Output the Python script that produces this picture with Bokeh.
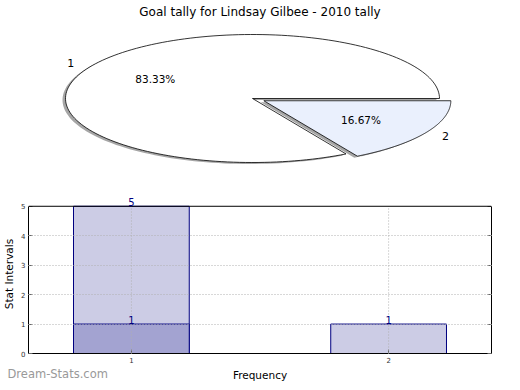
import numpy as np
from bokeh.plotting import figure
from bokeh.models import Range1d, Label, FixedTicker, LinearAxis, Span
from bokeh.layouts import column
from bokeh.embed import file_html
from bokeh.resources import INLINE
from bokeh.core.properties import value

# ---------------- data ----------------
title = "Goal tally for Lindsay Gilbee - 2010 tally"
pie_labels = ["1", "2"]
pie_values = [5, 1]
pie_colors = ["#FFFFFF", "#EAF0FD"]
pie_explode = [0.0, 0.07]

bar_categories = [1, 2]
bar_totals = [5, 1]
bar_overlay_categories = [1]
bar_overlay_values = [1]
y_ticks = [0, 1, 2, 3, 4, 5]
x_label = "Frequency"
y_label = "Stat Intervals"
watermark = "Dream-Stats.com"

FONT = "DejaVu Sans"

# layout (page pixels)
FRAME_LEFT = 29.0
FRAME_W = 463
TOP_FRAME_TOP = 20.0
TOP_H = 144

# ---------------- pie ----------------
p1 = figure(frame_width=FRAME_W, frame_height=TOP_H,
            x_range=Range1d(FRAME_LEFT, FRAME_LEFT + FRAME_W),
            y_range=Range1d(TOP_FRAME_TOP + TOP_H, TOP_FRAME_TOP),
            output_backend="svg", toolbar_location=None, min_border=0,
            title=title)
p1.axis.visible = False
p1.grid.visible = False
p1.outline_line_color = None
p1.title.align = "center"
p1.title.text_font = FONT
p1.title.text_font_size = "12px"
p1.title.text_font_style = "normal"
p1.title.text_color = "#000000"
p1.title.standoff = 4

cx, cy, rx, ry = 253.0, 98.0, 187.0, 64.0
total = float(sum(pie_values))
start = 0.0
wedge_xs, wedge_ys, centers = [], [], []
for v, e in zip(pie_values, pie_explode):
    f = v / total
    a0, a1 = start, start + f * 360.0
    mid = np.radians((a0 + a1) / 2.0)
    ox = cx + e * rx * np.cos(mid)
    oy = cy - e * ry * np.sin(mid)
    th = np.radians(np.linspace(a0, a1, 160))
    wedge_xs.append([ox] + list(ox + rx * np.cos(th)) + [ox])
    wedge_ys.append([oy] + list(oy - ry * np.sin(th)) + [oy])
    centers.append((ox, oy, mid))
    start = a1

sdx, sdy = -3.0, 1.5
p1.patches([[x + sdx for x in xs] for xs in wedge_xs],
           [[y + sdy for y in ys] for ys in wedge_ys],
           fill_color="#4D4D4D", fill_alpha=0.5, line_color=None)
p1.patches(wedge_xs, wedge_ys, fill_color=pie_colors, line_color="black",
           line_width=0.8)

for (ox, oy, mid), lab, v in zip(centers, pie_labels, pie_values):
    lx = ox + 1.1 * rx * np.cos(mid)
    ly = oy - 1.1 * ry * np.sin(mid)
    px = ox + 0.6 * rx * np.cos(mid)
    py = oy - 0.6 * ry * np.sin(mid)
    p1.text([lx], [ly], text=[lab], text_font=value(FONT), text_font_size="11px",
            text_align="right" if np.cos(mid) < 0 else "left",
            text_baseline="middle", text_color="black")
    p1.text([px], [py], text=["%.2f%%" % (100.0 * v / total)],
            text_font=value(FONT), text_font_size="10.5px",
            text_align="center", text_baseline="middle", text_color="black")

# ---------------- bars ----------------
PX_PER_Y = 29.4
Y_MAX = max(y_ticks)
Y_TOP = Y_MAX + 0.4          # headroom so the value label above the top bar is not clipped
BAR_H = int(round(Y_TOP * PX_PER_Y))
X0, X1 = 0.6, 2.4
p2 = figure(frame_width=FRAME_W, frame_height=BAR_H, x_range=Range1d(X0, X1),
            y_range=Range1d(0, Y_TOP), output_backend="svg",
            toolbar_location=None, min_border_left=0, min_border_right=4,
            min_border_top=30, min_border_bottom=0)
p2.outline_line_color = None

# top edge of the plot box
p2.add_layout(Span(location=Y_MAX, dimension="width", line_color="black",
                   line_width=1))

# vertical grid lines (bounded to 0..Y_MAX)
p2.segment(x0=bar_categories, y0=[0] * len(bar_categories), x1=bar_categories,
           y1=[Y_MAX] * len(bar_categories), line_color="#B0B0B0",
           line_dash="1 2", line_width=1, level="annotation")

p2.vbar(x=bar_categories, top=bar_totals, width=0.45, bottom=0,
        fill_color="#CCCCE5", line_color="#000080", line_width=1)
p2.vbar(x=bar_overlay_categories, top=bar_overlay_values, width=0.45, bottom=0,
        fill_color="#A3A3D1", line_color="#000080", line_width=1)

lab_x = bar_categories + bar_overlay_categories
lab_y = bar_totals + bar_overlay_values
p2.text(lab_x, lab_y, text=[str(v) for v in lab_y], text_font=value(FONT),
        text_font_size="10px", text_align="center", text_baseline="bottom",
        text_color="#000080", y_offset=0, level="overlay")

right_axis = LinearAxis()
p2.add_layout(right_axis, "right")

for ax in p2.xaxis:
    ax.ticker = FixedTicker(ticks=bar_categories)
for ax in p2.yaxis:
    ax.ticker = FixedTicker(ticks=y_ticks)
    ax.bounds = (0, Y_MAX)

for ax in list(p2.xaxis) + list(p2.yaxis):
    ax.axis_line_color = "black"
    ax.axis_line_width = 1
    ax.major_tick_in = 4
    ax.major_tick_out = 0
    ax.major_tick_line_color = "#666666"
    ax.minor_tick_line_color = None
    ax.major_label_text_font = FONT
    ax.major_label_text_font_size = "7px"
    ax.major_label_text_color = "#333333"
    ax.major_label_standoff = 3
    ax.axis_label_text_font = FONT
    ax.axis_label_text_font_size = "10.5px"
    ax.axis_label_text_font_style = "normal"
    ax.axis_label_text_color = "#000000"
    ax.axis_label_standoff = 3
right_axis.major_label_text_color = None
right_axis.major_label_standoff = 0

p2.xaxis.axis_label = x_label
p2.yaxis[0].axis_label = y_label

p2.xgrid.visible = False
for g in p2.ygrid:
    g.grid_line_color = "#B0B0B0"
    g.grid_line_dash = "1 2"
    g.grid_line_width = 1
    g.level = "annotation"
    g.ticker = FixedTicker(ticks=y_ticks[1:-1])

# watermark at the bottom-left corner of the page (data units of the bar plot)
px_per_x = FRAME_W / (X1 - X0)
wm = Label(x=X0 - (FRAME_LEFT - 8) / px_per_x, y=-20 / PX_PER_Y,
           text=watermark, text_font=FONT, text_font_size="11.5px",
           text_font_style="normal", text_color="#999999",
           text_baseline="middle", text_align="left")
p2.add_layout(wm, "above")

layout = column(p1, p2, spacing=0)
open("out.html", "w").write(file_html(layout, INLINE))
